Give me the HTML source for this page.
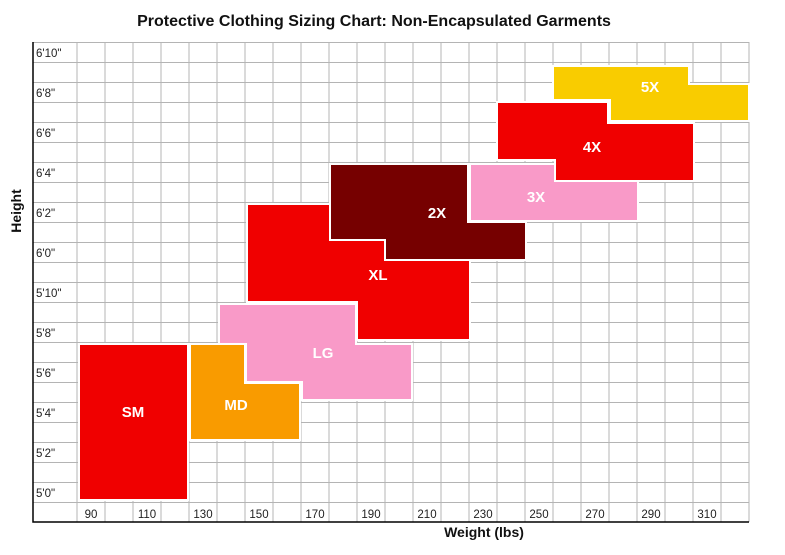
<!DOCTYPE html>
<html><head><style>body{margin:0;background:#fff;}svg{display:block}</style></head><body>
<svg width="785" height="555" xmlns="http://www.w3.org/2000/svg" font-family="Liberation Sans, Arial, sans-serif">
<text x="374" y="26" text-anchor="middle" font-size="16" font-weight="bold" fill="#111">Protective Clothing Sizing Chart: Non-Encapsulated Garments</text>
<g stroke="#b4b4b4" stroke-width="1">
<path d="M77 42V522M105 42V522M133 42V522M161 42V522M189 42V522M217 42V522M245 42V522M273 42V522M301 42V522M329 42V522M357 42V522M385 42V522M413 42V522M441 42V522M469 42V522M497 42V522M525 42V522M553 42V522M581 42V522M609 42V522M637 42V522M665 42V522M693 42V522M721 42V522M749 42V522"/>
<path d="M33 42.5H749M33 62.5H749M33 82.5H749M33 102.5H749M33 122.5H749M33 142.5H749M33 162.5H749M33 182.5H749M33 202.5H749M33 222.5H749M33 242.5H749M33 262.5H749M33 282.5H749M33 302.5H749M33 322.5H749M33 342.5H749M33 362.5H749M33 382.5H749M33 402.5H749M33 422.5H749M33 442.5H749M33 462.5H749M33 482.5H749M33 502.5H749"/>
</g>
<path d="M33 42V522H749" fill="none" stroke="#000" stroke-width="1.5"/>
<g font-size="11.5" fill="#222">
<text x="36" y="57">6'10"</text><text x="36" y="97">6'8"</text><text x="36" y="137">6'6"</text><text x="36" y="177">6'4"</text><text x="36" y="217">6'2"</text><text x="36" y="257">6'0"</text><text x="36" y="297">5'10"</text><text x="36" y="337">5'8"</text><text x="36" y="377">5'6"</text><text x="36" y="417">5'4"</text><text x="36" y="457">5'2"</text><text x="36" y="497">5'0"</text>
</g>
<g font-size="11.5" fill="#222" text-anchor="middle">
<text x="91" y="518">90</text><text x="147" y="518">110</text><text x="203" y="518">130</text><text x="259" y="518">150</text><text x="315" y="518">170</text><text x="371" y="518">190</text><text x="427" y="518">210</text><text x="483" y="518">230</text><text x="539" y="518">250</text><text x="595" y="518">270</text><text x="651" y="518">290</text><text x="707" y="518">310</text>
</g>
<g stroke="#fff" stroke-width="2">
<rect x="79" y="344" width="109" height="156" fill="#f00000"/>
<polygon points="219,304 356,304 356,344 412,344 412,400 302,400 302,382 246,382 246,344 219,344" fill="#f99ac8"/>
<polygon points="190,344 245,344 245,383 300,383 300,440 190,440" fill="#f99b00"/>
<polygon points="247,204 470,204 470,340 357,340 357,302 247,302" fill="#f00000"/>
<polygon points="470,164 638,164 638,221 470,221" fill="#f99ac8"/>
<polygon points="330,164 468,164 468,222 526,222 526,260 385,260 385,240 330,240" fill="#760000"/>
<polygon points="497,102 608,102 608,123 694,123 694,181 555,181 555,160 497,160" fill="#f00000"/>
<polygon points="553,66 689,66 689,84 749,84 749,121 610,121 610,100 553,100" fill="#f9cc00"/>
</g>
<g font-size="15" font-weight="bold" fill="#fff" text-anchor="middle">
<text x="133" y="417">SM</text><text x="236" y="410">MD</text><text x="323" y="358">LG</text><text x="378" y="280">XL</text><text x="437" y="218">2X</text><text x="536" y="202">3X</text><text x="592" y="152">4X</text><text x="650" y="92">5X</text>
</g>
<text x="484" y="537" text-anchor="middle" font-size="14" font-weight="bold" fill="#111">Weight (lbs)</text>
<text transform="translate(21,211) rotate(-90)" text-anchor="middle" font-size="14" font-weight="bold" fill="#111">Height</text>
</svg>
</body></html>
